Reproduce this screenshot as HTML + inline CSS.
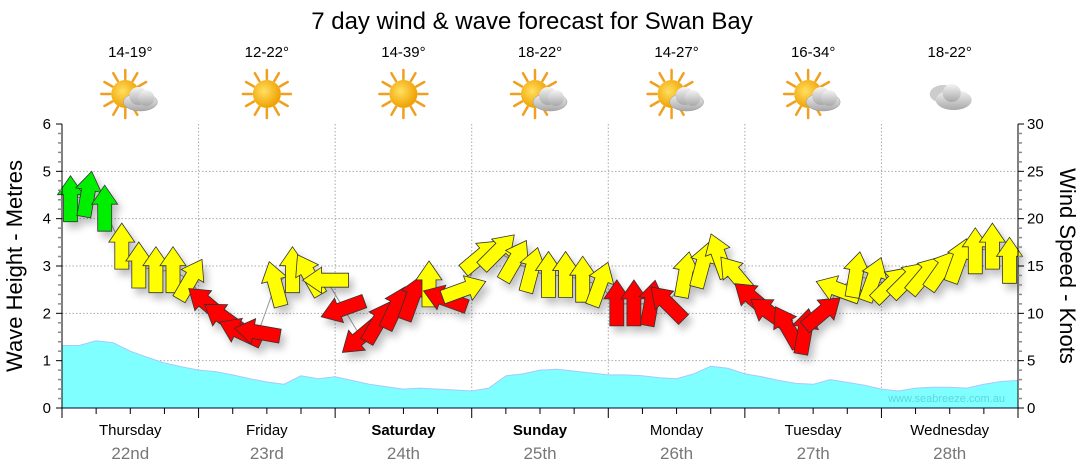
<!DOCTYPE html>
<html><head><meta charset="utf-8"><style>
body{margin:0;background:#fff;width:1080px;height:475px;overflow:hidden;font-family:"Liberation Sans",sans-serif}
svg{display:block}
</style></head><body>
<svg id="chart" width="1080" height="475" xmlns="http://www.w3.org/2000/svg" font-family="Liberation Sans, sans-serif">
<defs>
<filter id="sh" x="-50%" y="-50%" width="200%" height="200%"><feGaussianBlur in="SourceAlpha" stdDeviation="4"/><feOffset dx="4" dy="6"/><feComponentTransfer><feFuncA type="linear" slope="0.25"/></feComponentTransfer><feMerge><feMergeNode/><feMergeNode in="SourceGraphic"/></feMerge></filter>
<radialGradient id="sunG" cx="40%" cy="40%" r="60%"><stop offset="0" stop-color="#ffe060"/><stop offset="1" stop-color="#f0a000"/></radialGradient>
<linearGradient id="cloudG" x1="0" y1="0" x2="0" y2="1"><stop offset="0" stop-color="#f4f4f4"/><stop offset="1" stop-color="#a8a8a8"/></linearGradient>
</defs>
<text x="532" y="29" text-anchor="middle" font-size="24" fill="#000">7 day wind &amp; wave forecast for Swan Bay</text>
<g id="header"></g>
<g id="grid"></g>
<g id="wave"></g>
<g id="windline"></g>
<g id="arrows" filter="url(#sh)"></g>
<g id="axes"></g>
<text x="1005" y="402" text-anchor="end" font-size="11" fill="#5fd6e0">www.seabreeze.com.au</text>
<text transform="translate(22,266) rotate(-90)" text-anchor="middle" font-size="22" fill="#000">Wave Height - Metres</text>
<text transform="translate(1060,266) rotate(90)" text-anchor="middle" font-size="22" fill="#000">Wind Speed - Knots</text>
</svg>
<script>
const days = ["Thursday","Friday","Saturday","Sunday","Monday","Tuesday","Wednesday"];
const dates = ["22nd","23rd","24th","25th","26th","27th","28th"];
const boldDays = [false,false,true,true,false,false,false];
const temps = ["14-19°","12-22°","14-39°","18-22°","14-27°","16-34°","18-22°"];
const icons = ["suncloud","sun","sun","suncloud","suncloud","suncloud","cloud"];
const waveLabels = [0,1,2,3,4,5,6];
const windLabels = [0,5,10,15,20,25,30];
const windSpeed = [22,22.5,21,17,15,14.5,14.5,13.5, 11,9.5,8,8,13,14.5,14,13.5, 10.5,7.5,9,10.5,11.5,13,11.5,12.5, 16,16.5,15.5,14.5,14,14,13.5,13, 11,11,11,11,14,15,16,14, 11.5,10,8.5,8,10,12.5,14,13.5, 13,13.5,14,14.5,15.5,16.5,17,15.5];
const windDir = [0,10,0,0,0,0,0,30, -50,-55,-65,-80,-15,0,-30,-90, -110,-130,30,25,20,0,-70,70, 50,45,30,15,0,0,0,20, 0,0,10,-45,10,15,-20,-40, -50,-55,-30,10,50,-70,10,20, 45,45,40,35,20,0,0,0];
const waveHeight = [1.32,1.32,1.42,1.38,1.2,1.07,0.95,0.87,0.8,0.77,0.7,0.62,0.55,0.5,0.68,0.62,0.66,0.58,0.5,0.45,0.4,0.42,0.4,0.38,0.36,0.42,0.68,0.72,0.8,0.82,0.78,0.74,0.7,0.7,0.68,0.64,0.62,0.72,0.88,0.84,0.72,0.66,0.58,0.52,0.5,0.6,0.54,0.48,0.4,0.36,0.42,0.44,0.44,0.42,0.5,0.56,0.58];

const NS="http://www.w3.org/2000/svg";
const X0=62,X1=1018,Y0=408,Y1=124,HOURS=168;
const xT=t=>X0+t/HOURS*(X1-X0);
const yW=m=>Y0-m/6*(Y0-Y1);
const yK=k=>Y0-k/30*(Y0-Y1);
function mk(tag,attrs,parent){const e=document.createElementNS(NS,tag);for(const k in attrs)e.setAttribute(k,attrs[k]);parent.appendChild(e);return e;}
const G=id=>document.getElementById(id);

// header
const hd=G('header');
days.forEach((d,i)=>{
  const cx=xT(i*24+12);
  const t=mk('text',{x:cx,y:57,'text-anchor':'middle','font-size':15,fill:'#000'},hd);t.textContent=temps[i];
  
  
  const g=mk('g',{transform:`translate(${cx},96)`},hd);
  
  
  if(icons[i]!=='cloud'){
    const s=icons[i]==='sun'?0:-5;
    for(let a=0;a<360;a+=30){const r=Math.PI*a/180;mk('line',{x1:s+Math.cos(r)*15,y1:-2+Math.sin(r)*15,x2:s+Math.cos(r)*24,y2:-2+Math.sin(r)*24,stroke:'#f0a020','stroke-width':2.5,'stroke-linecap':'round'},g);}
    mk('circle',{cx:s,cy:-2,r:14,fill:'url(#sunG)'},g);
  }
  if(icons[i]==='suncloud'){
    mk('ellipse',{cx:10,cy:6,rx:17,ry:9,fill:'url(#cloudG)',stroke:'#999','stroke-width':0.5},g);
    mk('circle',{cx:8,cy:0,r:9,fill:'url(#cloudG)'},g);
    mk('circle',{cx:16,cy:2,r:8,fill:'url(#cloudG)'},g);
  }
  if(icons[i]==='cloud'){
    mk('ellipse',{cx:-6,cy:-2,rx:14,ry:9,fill:'#ccc'},g);
    mk('ellipse',{cx:4,cy:4,rx:18,ry:10,fill:'url(#cloudG)'},g);
    mk('circle',{cx:2,cy:-3,r:9,fill:'url(#cloudG)'},g);
  }
});

// grid
const gr=G('grid');
waveLabels.forEach(v=>{if(v>0&&v<6){const l=mk('line',{x1:X0,x2:X1,y1:yW(v),y2:yW(v),stroke:'#aaa','stroke-dasharray':'1.5,2'},gr);
  
  }});
for(let d=1;d<7;d++){const l=mk('line',{x1:xT(d*24),x2:xT(d*24),y1:Y1,y2:Y0,stroke:'#aaa','stroke-dasharray':'1.5,2'},gr);
  
  }

// wave area
let dStr=`M${X0},${Y0}`;
waveHeight.forEach((h,i)=>{dStr+=` L${xT(i*HOURS/(waveHeight.length-1)).toFixed(1)},${yW(h).toFixed(1)}`;});
dStr+=` L${X1},${Y0} Z`;
const wa=mk('path',{d:dStr,fill:'#7fffff',stroke:'#a8c8ff','stroke-width':1},G('wave'));



// wind connecting line
const pts=windSpeed.map((s,i)=>`${xT(i*3+1.5).toFixed(1)},${yK(s).toFixed(1)}`).join(' ');
const wl=mk('polyline',{points:pts,fill:'none',stroke:'#999','stroke-width':1},G('windline'));



// arrows
const ar=G('arrows');
const shape="M0,-24 L13,-5 L7,-5 L7,22 L-7,22 L-7,-5 L-13,-5 Z";
windSpeed.forEach((s,i)=>{
  const cx=xT(i*3+1.5),cy=yK(s);
  const col=s>=18?'#00ee00':(s>=12?'#ffff00':'#ff0000');
  const p=mk('path',{d:shape,fill:col,stroke:'#333','stroke-width':0.8,transform:`translate(${cx.toFixed(1)},${cy.toFixed(1)}) rotate(${windDir[i]})`},ar);
  
  
});

// axes
const ax=G('axes');
mk('line',{x1:X0,x2:X0,y1:Y1,y2:Y0,stroke:'#000'},ax);
mk('line',{x1:X1,x2:X1,y1:Y1,y2:Y0,stroke:'#000'},ax);
mk('line',{x1:X0,x2:X1,y1:Y0,y2:Y0,stroke:'#003'},ax);
for(let k=0;k<=30;k++){
  const y=yK(k),maj=k%5===0;
  mk('line',{x1:X0-(maj?6:4),x2:X0,y1:y,y2:y,stroke:maj?'#000':'#888','stroke-width':maj?1:1.5},ax);
  mk('line',{x1:X1,x2:X1+(maj?6:4),y1:y,y2:y,stroke:maj?'#000':'#888','stroke-width':maj?1:1.5},ax);
}
waveLabels.forEach(v=>{const t=mk('text',{x:51,y:yW(v)+5,'text-anchor':'end','font-size':15,fill:'#000'},ax);t.textContent=v;
  
  });
windLabels.forEach(v=>{const t=mk('text',{x:1027,y:yK(v)+5,'text-anchor':'start','font-size':15,fill:'#000'},ax);t.textContent=v;
  
  });
for(let h=0;h<=HOURS;h+=6){const x=xT(h);mk('line',{x1:x,x2:x,y1:Y0,y2:Y0+(h%24===0?10:6),stroke:'#000'},ax);}
days.forEach((d,i)=>{
  const cx=xT(i*24+12);
  const t=mk('text',{x:cx,y:435,'text-anchor':'middle','font-size':15,fill:'#000','font-weight':boldDays[i]?'bold':'normal'},ax);t.textContent=d;
  
  
  const t2=mk('text',{x:cx,y:459,'text-anchor':'middle','font-size':17,fill:'#777'},ax);t2.textContent=dates[i];
  
  
});
</script>
</body></html>
